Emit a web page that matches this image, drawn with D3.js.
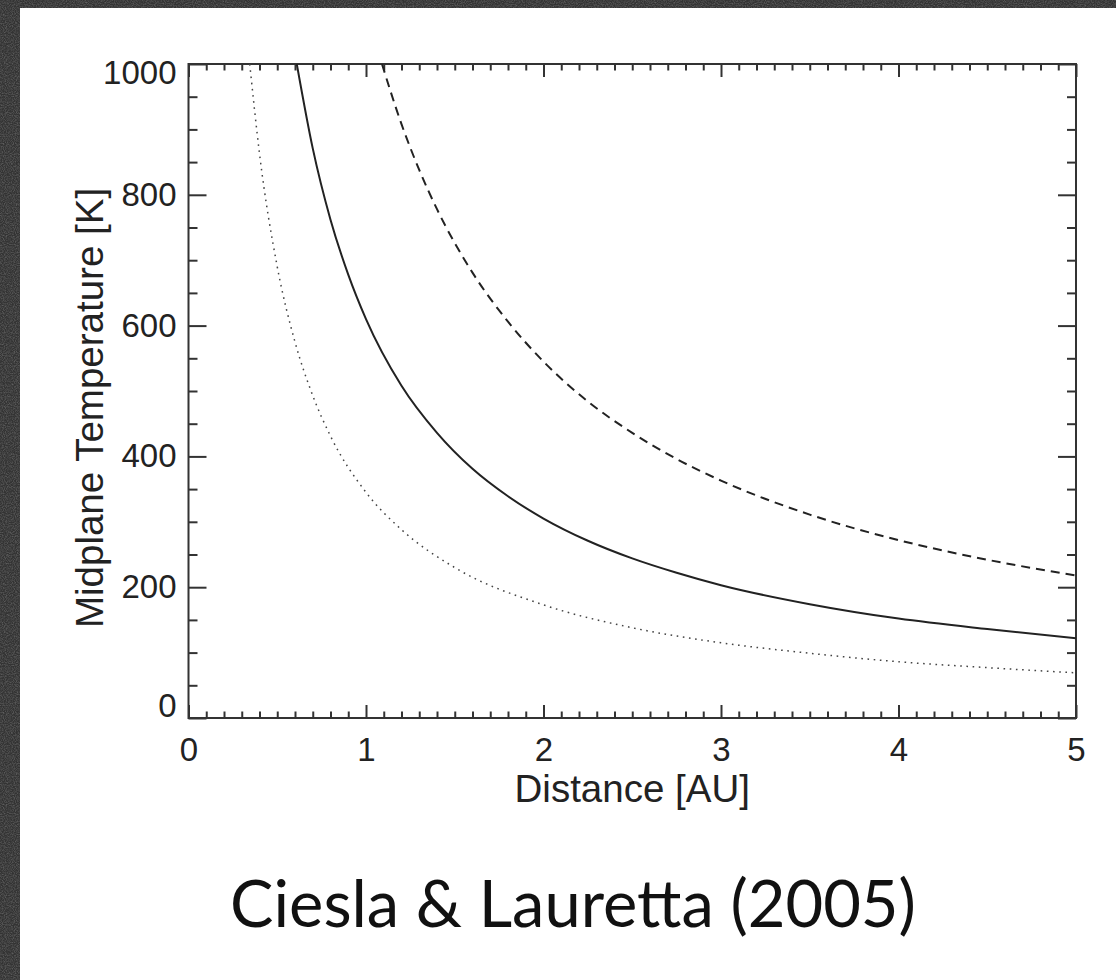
<!DOCTYPE html>
<html>
<head>
<meta charset="utf-8">
<script src="https://cdn.jsdelivr.net/npm/d3@7"></script>
<style>
  html, body { margin: 0; padding: 0; background: #3b3b3b; }
  svg { display: block; }
</style>
</head>
<body>
<svg id="chart" width="1116" height="980"></svg>
<script>
// Midplane temperature profiles
const solidDist = [0.61, 0.7, 0.8, 0.9, 1.0, 1.2, 1.4, 1.6, 1.8, 2.0, 2.25, 2.5, 2.75, 3.0, 3.5, 4.0, 4.5, 5.0];
const solidTemp = [1000, 871, 762, 678, 610, 508, 436, 381, 339, 305, 271, 244, 222, 203, 174, 152, 136, 122];

const dashedDist = [1.09, 1.2, 1.3, 1.4, 1.6, 1.8, 2.0, 2.25, 2.5, 2.75, 3.0, 3.5, 4.0, 4.5, 5.0];
const dashedTemp = [1000, 908, 838, 778, 681, 606, 545, 484, 436, 396, 363, 311, 272, 242, 218];

const dottedDist = [0.345, 0.4, 0.5, 0.6, 0.7, 0.8, 1.0, 1.2, 1.5, 2.0, 2.5, 3.0, 3.5, 4.0, 4.5, 5.0];
const dottedTemp = [1000, 863, 690, 575, 493, 431, 345, 288, 230, 173, 138, 115, 99, 86, 77, 69];

const xMajorTicks = [0, 1, 2, 3, 4, 5];
const yMajorTicks = [0, 200, 400, 600, 800, 1000];

const xTitle = "Distance [AU]";
const yTitle = "Midplane Temperature [K]";
const caption = "Ciesla & Lauretta (2005)";

const svg = d3.select("#chart");
const W = 1116, H = 980;

// grainy dark backdrop with a white sheet on top
const defs = svg.append("defs");
const grain = defs.append("filter").attr("id", "grain")
  .attr("x", 0).attr("y", 0).attr("width", "100%").attr("height", "100%");
grain.append("feTurbulence").attr("type", "fractalNoise")
  .attr("baseFrequency", 0.9).attr("numOctaves", 2).attr("seed", 7).attr("result", "noise");
grain.append("feColorMatrix").attr("in", "noise").attr("type", "matrix")
  .attr("values", "0 0 0 0 1  0 0 0 0 1  0 0 0 0 1  1.4 0 0 0 -0.5");

svg.append("rect").attr("width", W).attr("height", H).attr("fill", "#333333");
svg.append("rect").attr("width", W).attr("height", H).attr("filter", "url(#grain)").attr("opacity", 0.3);
svg.append("rect").attr("x", 20).attr("y", 8).attr("width", W - 20).attr("height", H - 8).attr("fill", "#ffffff");

// plot region
const L = 188.5, R = 1076, T = 64, B = 718;
const x = d3.scaleLinear().domain([0, 5]).range([L, R]);
const y = d3.scaleLinear().domain([0, 1000]).range([B, T]);

const xMinor = d3.range(0, 50).map(i => i / 10).filter(v => Math.abs(v - Math.round(v)) > 1e-9);
const yMinor = d3.range(0, 1001, 50).filter(v => v % 200 !== 0);

const axisColor = "#333";
const labelFont = "'Liberation Sans', Arial, Helvetica, sans-serif";

function styleAxis(g) {
  g.select(".domain").remove();
  g.selectAll(".tick line").attr("stroke", axisColor).attr("stroke-width", 2);
  g.selectAll(".tick text").attr("fill", "#222").attr("font-family", labelFont).attr("font-size", 33);
}

// bottom axis
svg.append("g").attr("transform", `translate(0,${B})`)
  .call(d3.axisBottom(x).tickValues(xMajorTicks).tickFormat(d3.format("d")).tickSize(-13).tickSizeOuter(0).tickPadding(20))
  .call(styleAxis);
svg.append("g").attr("transform", `translate(0,${B})`)
  .call(d3.axisBottom(x).tickValues(xMinor).tickFormat("").tickSize(-6.5).tickSizeOuter(0))
  .call(styleAxis);
// top axis
svg.append("g").attr("transform", `translate(0,${T})`)
  .call(d3.axisTop(x).tickValues(xMajorTicks).tickFormat("").tickSize(-13).tickSizeOuter(0))
  .call(styleAxis);
svg.append("g").attr("transform", `translate(0,${T})`)
  .call(d3.axisTop(x).tickValues(xMinor).tickFormat("").tickSize(-6.5).tickSizeOuter(0))
  .call(styleAxis);

// left axis
const yLeft = svg.append("g").attr("transform", `translate(${L},0)`)
  .call(d3.axisLeft(y).tickValues(yMajorTicks).tickFormat(d3.format("d")).tickSize(-18).tickSizeOuter(0).tickPadding(12))
  .call(styleAxis);
// keep the end labels inside the axis span
yLeft.selectAll(".tick text").attr("dy", d => d === 1000 ? "0.6em" : d === 0 ? "-0.05em" : "0.32em");
svg.append("g").attr("transform", `translate(${L},0)`)
  .call(d3.axisLeft(y).tickValues(yMinor).tickFormat("").tickSize(-9).tickSizeOuter(0))
  .call(styleAxis);
// right axis
svg.append("g").attr("transform", `translate(${R},0)`)
  .call(d3.axisRight(y).tickValues(yMajorTicks).tickFormat("").tickSize(-18).tickSizeOuter(0))
  .call(styleAxis);
svg.append("g").attr("transform", `translate(${R},0)`)
  .call(d3.axisRight(y).tickValues(yMinor).tickFormat("").tickSize(-9).tickSizeOuter(0))
  .call(styleAxis);

// frame
svg.append("rect").attr("x", L).attr("y", T).attr("width", R - L).attr("height", B - T)
  .attr("fill", "none").attr("stroke", axisColor).attr("stroke-width", 2);

// curves
defs.append("clipPath").attr("id", "plotClip")
  .append("rect").attr("x", L).attr("y", T).attr("width", R - L).attr("height", B - T);

const line = d3.line().x(d => x(d[0])).y(d => y(d[1])).curve(d3.curveMonotoneX);
const series = [
  { dist: dottedDist, temp: dottedTemp, dash: "1.6 4.6", width: 1.5, color: "#444" },
  { dist: solidDist, temp: solidTemp, dash: null, width: 2, color: "#222" },
  { dist: dashedDist, temp: dashedTemp, dash: "9 6", width: 2, color: "#222" }
];
const curves = svg.append("g").attr("clip-path", "url(#plotClip)");
series.forEach(s => {
  curves.append("path")
    .attr("d", line(d3.zip(s.dist, s.temp)))
    .attr("fill", "none")
    .attr("stroke", s.color)
    .attr("stroke-width", s.width)
    .attr("stroke-dasharray", s.dash);
});

// axis titles
svg.append("text").attr("x", (L + R) / 2).attr("y", 802)
  .attr("text-anchor", "middle").attr("font-family", labelFont).attr("font-size", 38.5).attr("fill", "#222")
  .text(xTitle);
svg.append("text").attr("transform", `translate(103,${(T + B) / 2 + 17}) rotate(-90)`)
  .attr("text-anchor", "middle").attr("font-family", labelFont).attr("font-size", 38.5).attr("fill", "#222")
  .text(yTitle);

// caption
svg.append("text").attr("x", 573).attr("y", 927)
  .attr("text-anchor", "middle").attr("font-family", "Lato, 'Open Sans', sans-serif")
  .attr("font-weight", 400).attr("font-size", 65)
  .attr("fill", "#111")
  .text(caption);
</script>
</body>
</html>
